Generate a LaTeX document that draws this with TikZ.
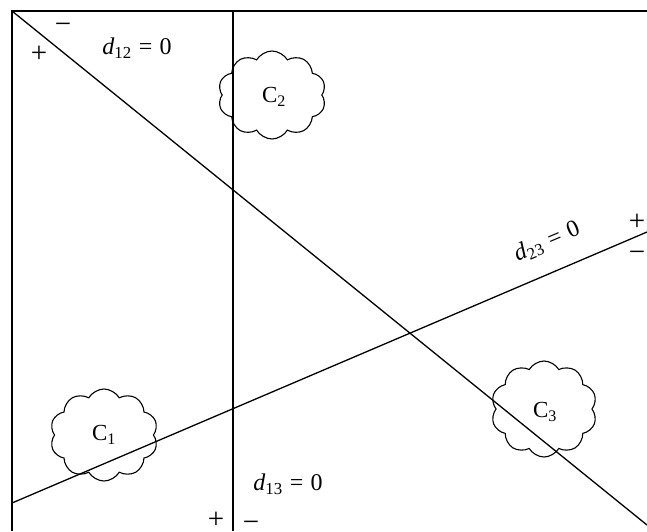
\documentclass[tikz,border=0pt]{standalone}
\usepackage{fontspec}
\setmainfont{Liberation Serif}
\usetikzlibrary{shapes.symbols}
\newcommand{\dlab}[1]{\textit{d}\textsubscript{#1}\hspace{0.3em}=\hspace{0.3em}0}
\tikzset{
  ln/.style={line width=1.3pt, black},
  blob/.style={cloud, draw, line width=1.1pt, cloud puffs=10, cloud puff arc=120, inner sep=0pt},
  lab/.style={font=\fontsize{24}{26}\selectfont, inner sep=1pt},
  sgn/.style={font=\fontsize{29}{30}\selectfont, inner sep=0pt},
  cl/.style={font=\fontsize{23}{26}\selectfont, inner sep=0pt}
}
\begin{document}
\begin{tikzpicture}[x=1pt,y=-1pt]
\useasboundingbox (0,0) rectangle (647,531);
% frame
\coordinate (tl) at (12,11);
\coordinate (tr) at (647,11);
\coordinate (bl) at (12,531);
\draw[ln] (tr) -- (tl) -- (bl);
% lines
\coordinate (v1) at (233,11);
\coordinate (v2) at (233,531);
\draw[ln] (v1) -- (v2);
\coordinate (a1) at (12,11);
\coordinate (a2) at (647,525);
\draw[ln] (a1) -- (a2);
\coordinate (b1) at (12,503);
\coordinate (b2) at (647,232);
\draw[ln] (b1) -- (b2);
% clouds
\node[blob, minimum width=108pt, minimum height=88pt] (c2) at (272,95) {};
\node[blob, minimum width=108pt, minimum height=92pt] (c1) at (104,435) {};
\node[blob, minimum width=106pt, minimum height=96pt] (c3) at (544,409) {};
\node[cl] (t2) at (274,97) {C\textsubscript{2}};
\node[cl] (t1) at (104,435) {C\textsubscript{1}};
\node[cl] (t3) at (545,412) {C\textsubscript{3}};
% labels
\node[lab] (d12) at (137,48) {\dlab{12}};
\node[lab] (d13) at (288,484) {\dlab{13}};
\node[lab, rotate=23.1] (d23) at (547,242) {\dlab{23}};
% signs
\node[sgn] (m1) at (63,28) {−};
\node[sgn] (p1) at (39,54) {+};
\node[sgn] (p2) at (637,222) {+};
\node[sgn] (m2) at (637,256) {−};
\node[sgn] (p3) at (216,520) {+};
\node[sgn] (m3) at (251,526) {−};
\end{tikzpicture}
\end{document}
